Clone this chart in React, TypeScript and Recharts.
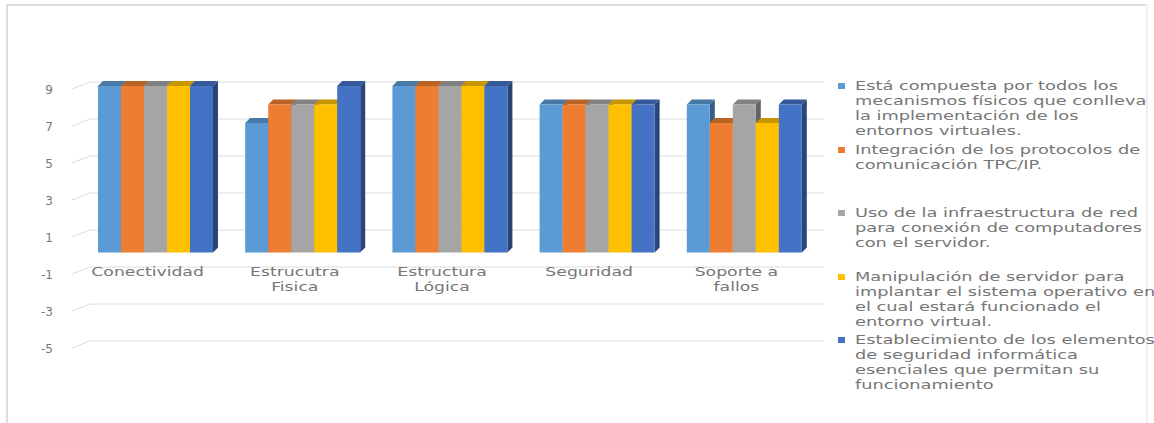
import React from 'react';
import { BarChart, Bar, XAxis, YAxis, CartesianGrid, Legend } from 'recharts';

// Categories evaluated and the score each criterion received
const categories = ['Conectividad', 'Estrucutra Fisica', 'Estructura Lógica', 'Seguridad', 'Soporte a fallos'];
const mecanismosFisicos = [9, 7, 9, 8, 8];
const protocolosTcpIp = [9, 8, 9, 8, 7];
const infraestructuraRed = [9, 8, 9, 8, 8];
const manipulacionServidor = [9, 8, 9, 8, 7];
const seguridadInformatica = [9, 9, 9, 8, 8];
const yTicks = [-5, -3, -1, 1, 3, 5, 7, 9];

const seriesNames = [
  'Está compuesta por todos los\nmecanismos físicos que conlleva\nla implementación de los\nentornos virtuales.',
  'Integración de los protocolos de\ncomunicación TPC/IP.',
  'Uso de la infraestructura de red\npara conexión de computadores\ncon el servidor.',
  'Manipulación de servidor para\nimplantar el sistema operativo en\nel cual estará funcionado el\nentorno virtual.',
  'Establecimiento de los elementos\nde seguridad informática\nesenciales que permitan su\nfuncionamiento',
];
const seriesValues = [mecanismosFisicos, protocolosTcpIp, infraestructuraRed, manipulacionServidor, seguridadInformatica];
const seriesColors = ['#5B9BD5', '#ED7D31', '#A5A5A5', '#FFC000', '#4472C4'];

const data = categories.map((name, i) => {
  const row: Record<string, string | number> = { name };
  seriesValues.forEach((vals, s) => {
    row[`s${s}`] = vals[i];
  });
  return row;
});

const TEXT_COLOR = '#767676';
const FONT = '"DejaVu Sans", "Open Sans", sans-serif';
const DEPTH = 5;

function shade(hex: string, f: number) {
  const n = parseInt(hex.slice(1), 16);
  const r = Math.round(((n >> 16) & 255) * f);
  const g = Math.round(((n >> 8) & 255) * f);
  const b = Math.round((n & 255) * f);
  return `rgb(${r},${g},${b})`;
}

// Column with a top face and a right-hand side face for a 3D look
const Column3D = (props: any) => {
  const { x, y, width, height, fill } = props;
  if (!height || height <= 0) return null;
  const d = DEPTH;
  return (
    <g>
      <path
        d={`M${x},${y} L${x + d},${y - d} L${x + width + d},${y - d} L${x + width},${y} Z`}
        fill={shade(fill, 0.78)}
      />
      <path
        d={`M${x + width},${y} L${x + width + d},${y - d} L${x + width + d},${y + height - d} L${x + width},${y + height} Z`}
        fill={shade(fill, 0.6)}
      />
      <rect x={x} y={y} width={width} height={height} fill={fill} />
    </g>
  );
};

// Back-wall grid line with a short slanted floor segment on the left
const gridLine = (props: any) => {
  const { x1, x2, y1 } = props;
  const y = y1 - 4;
  return (
    <path
      key={`grid-${y1}`}
      d={`M${x1 - 10},${y + 7} L${x1 + 8},${y} L${x2 + 6},${y}`}
      fill="none"
      stroke="#dcdcdc"
      strokeWidth={1}
    />
  );
};

const YTick = (props: any) => {
  const { x, y, payload } = props;
  return (
    <text x={x} y={y + 4} dy="0.35em" textAnchor="end" fill={TEXT_COLOR} fontSize={12} fontFamily={FONT}>
      {payload.value}
    </text>
  );
};

function wrapWords(label: string, max: number) {
  const lines: string[] = [];
  let cur = '';
  label.split(' ').forEach((w) => {
    const next = cur ? `${cur} ${w}` : w;
    if (next.length > max && cur) {
      lines.push(cur);
      cur = w;
    } else {
      cur = next;
    }
  });
  if (cur) lines.push(cur);
  return lines;
}

const XTick = (props: any) => {
  const { x, y, payload } = props;
  const lines = wrapWords(String(payload.value), 10);
  return (
    <g transform={`translate(${x - 8},${y - 73}) scale(1.38,1)`}>
      {lines.map((ln, i) => (
        <text key={i} x={0} y={i * 15} dy="0.35em" textAnchor="middle" fill={TEXT_COLOR} fontSize={12.5} fontFamily={FONT}>
          {ln}
        </text>
      ))}
    </g>
  );
};

const LegendContent = () => (
  <div style={{ position: 'relative', width: 319, height: 330, fontFamily: FONT }}>
    {seriesNames.map((name, i) => (
      <div key={i} style={{ position: 'absolute', left: 0, top: i * 63.5, width: 319 }}>
        <div style={{ position: 'absolute', left: 3, top: 5, width: 7, height: 6, background: seriesColors[i] }} />
        <div
          style={{
            position: 'absolute',
            left: 20,
            top: 0,
            whiteSpace: 'pre',
            fontSize: 12.5,
            lineHeight: '15px',
            color: TEXT_COLOR,
            transform: 'scaleX(1.42)',
            transformOrigin: 'left top',
          }}
        >
          {name}
        </div>
      </div>
    ))}
  </div>
);

export default function App() {
  return (
    <div style={{ position: 'fixed', left: 0, top: 0, width: 1154, height: 423, background: '#fff', overflow: 'hidden' }}>
      <div style={{ position: 'absolute', left: 6, top: 4, width: 1142, height: 2, background: '#dedede' }} />
      <div style={{ position: 'absolute', left: 6, top: 4, width: 2, height: 419, background: '#dedede' }} />
      <div style={{ position: 'absolute', left: 1146, top: 4, width: 2, height: 419, background: '#f0f0f0' }} />
      <div style={{ position: 'absolute', left: 0, top: 0 }}>
        <BarChart
          width={1154}
          height={423}
          data={data}
          margin={{ top: 86, right: 336, bottom: 48, left: 42 }}
          barGap={0}
          barSize={23}
        >
          <CartesianGrid vertical={false} horizontal={gridLine} />
          <XAxis
            dataKey="name"
            height={30}
            axisLine={false}
            tickLine={false}
            tickSize={0}
            tickMargin={0}
            interval={0}
            tick={<XTick />}
          />
          <YAxis
            width={40}
            domain={[-5, 9]}
            ticks={yTicks}
            axisLine={false}
            tickLine={false}
            tickSize={0}
            tickMargin={29}
            tick={<YTick />}
            interval={0}
          />
          <Legend
            layout="vertical"
            align="center"
            verticalAlign="middle"
            content={<LegendContent />}
            wrapperStyle={{ left: 835, top: 78, width: 319, height: 330 }}
          />
          {seriesNames.map((name, i) => (
            <Bar
              key={i}
              dataKey={`s${i}`}
              name={name}
              fill={seriesColors[i]}
              shape={<Column3D />}
              isAnimationActive={false}
            />
          ))}
        </BarChart>
      </div>
    </div>
  );
}
